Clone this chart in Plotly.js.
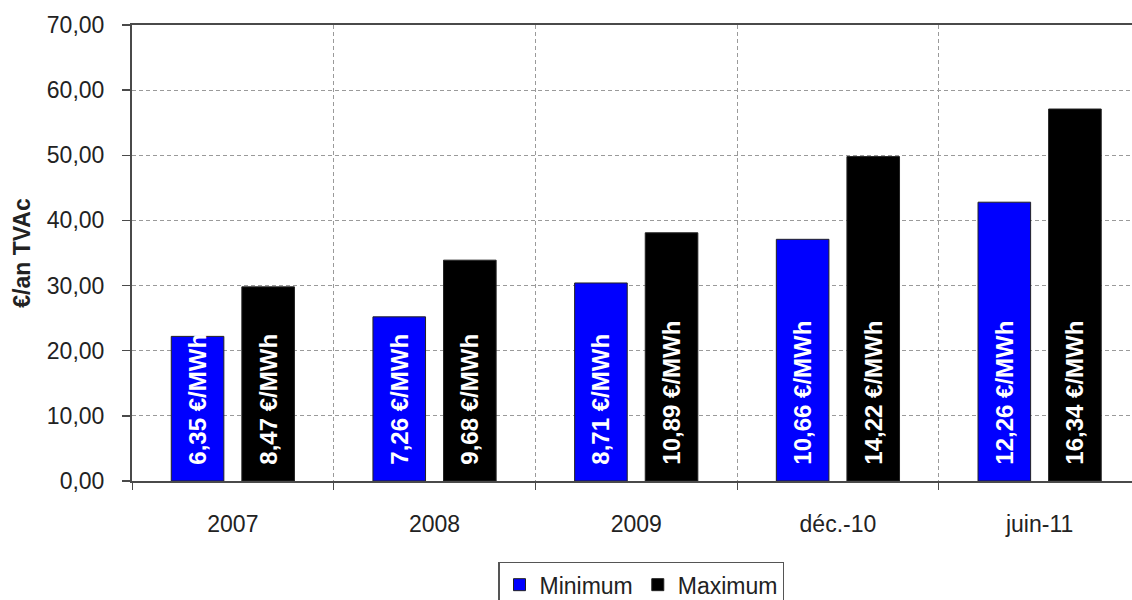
<!DOCTYPE html>
<html>
<head>
<meta charset="utf-8">
<script src="https://cdn.plot.ly/plotly-3.0.1.min.js"></script>
<style>
  html, body { margin: 0; padding: 0; background: #fff; }
  #chart { width: 1132px; height: 600px; }
</style>
</head>
<body>
<div id="chart"></div>
<script>
// Annual cost (€/an TVAc) by period, with the matching €/MWh figure printed in each bar
const categories = ['2007', '2008', '2009', 'déc.-10', 'juin-11'];
const minimumValues = [22.2, 25.2, 30.4, 37.1, 42.8];
const maximumValues = [29.8, 33.9, 38.1, 49.8, 57.1];
const minimumLabels = ['6,35 €/MWh', '7,26 €/MWh', '8,71 €/MWh', '10,66 €/MWh', '12,26 €/MWh'];
const maximumLabels = ['8,47 €/MWh', '9,68 €/MWh', '10,89 €/MWh', '14,22 €/MWh', '16,34 €/MWh'];
const yTickValues = [0, 10, 20, 30, 40, 50, 60, 70];

const FONT = 'Liberation Sans, Arial, sans-serif';
const TEXT = '#222222';
const GRID = '#9a9a9a';
const AXIS = '#4a4a4a';

function barTrace(name, values, labels, color) {
  return {
    type: 'bar',
    name: name,
    x: categories,
    y: values,
    text: labels,
    // two non-breaking spaces lift the rotated label a little off the bar base
    texttemplate: '\u00a0\u00a0%{text}',
    textposition: 'inside',
    insidetextanchor: 'start',
    textangle: -90,
    constraintext: 'none',
    textfont: { family: FONT, size: 24, color: '#ffffff', weight: 'bold' },
    marker: { color: color, line: { color: '#222222', width: 1 } },
    cliponaxis: true,
    hoverinfo: 'skip'
  };
}

const data = [
  barTrace('Minimum', minimumValues, minimumLabels, '#0000ff'),
  barTrace('Maximum', maximumValues, maximumLabels, '#000000')
];

const layout = {
  width: 1132,
  height: 600,
  margin: { l: 132, r: 0, t: 25, b: 119, autoexpand: false },
  paper_bgcolor: '#ffffff',
  plot_bgcolor: '#ffffff',
  separators: ', ',
  font: { family: FONT, size: 23, color: TEXT },
  barmode: 'group',
  bargap: 0.30,
  bargroupgap: 0.255,
  showlegend: true,
  legend: {
    orientation: 'h',
    x: 0.509,
    xanchor: 'center',
    y: -0.177,
    yanchor: 'top',
    bgcolor: '#ffffff',
    bordercolor: '#555555',
    borderwidth: 1.5,
    font: { family: FONT, size: 23, color: TEXT },
    traceorder: 'normal'
  },
  xaxis: {
    type: 'category',
    range: [-0.5, 4.458],
    tickson: 'boundaries',
    ticks: 'outside',
    ticklen: 7,
    tickwidth: 1,
    tickcolor: AXIS,
    ticklabelstandoff: 21,
    showgrid: true,
    gridcolor: GRID,
    gridwidth: 1,
    griddash: '4px,3px',
    showline: true,
    linecolor: AXIS,
    linewidth: 2,
    mirror: true,
    tickfont: { family: FONT, size: 23, color: TEXT },
    fixedrange: true
  },
  yaxis: {
    range: [0, 70],
    tickmode: 'array',
    tickvals: yTickValues,
    tickformat: '.2f',
    ticks: 'outside',
    ticklen: 8,
    tickwidth: 1.5,
    tickcolor: AXIS,
    ticklabelstandoff: 13,
    showgrid: true,
    gridcolor: GRID,
    gridwidth: 1,
    griddash: '4px,3px',
    zeroline: false,
    showline: true,
    linecolor: AXIS,
    linewidth: 2,
    tickfont: { family: FONT, size: 23, color: TEXT },
    title: {
      text: '<b>€/an TVAc</b>',
      font: { family: FONT, size: 23, color: TEXT },
      standoff: 10
    },
    fixedrange: true
  }
};

Plotly.newPlot('chart', data, layout, { staticPlot: true, displayModeBar: false });
</script>
</body>
</html>
